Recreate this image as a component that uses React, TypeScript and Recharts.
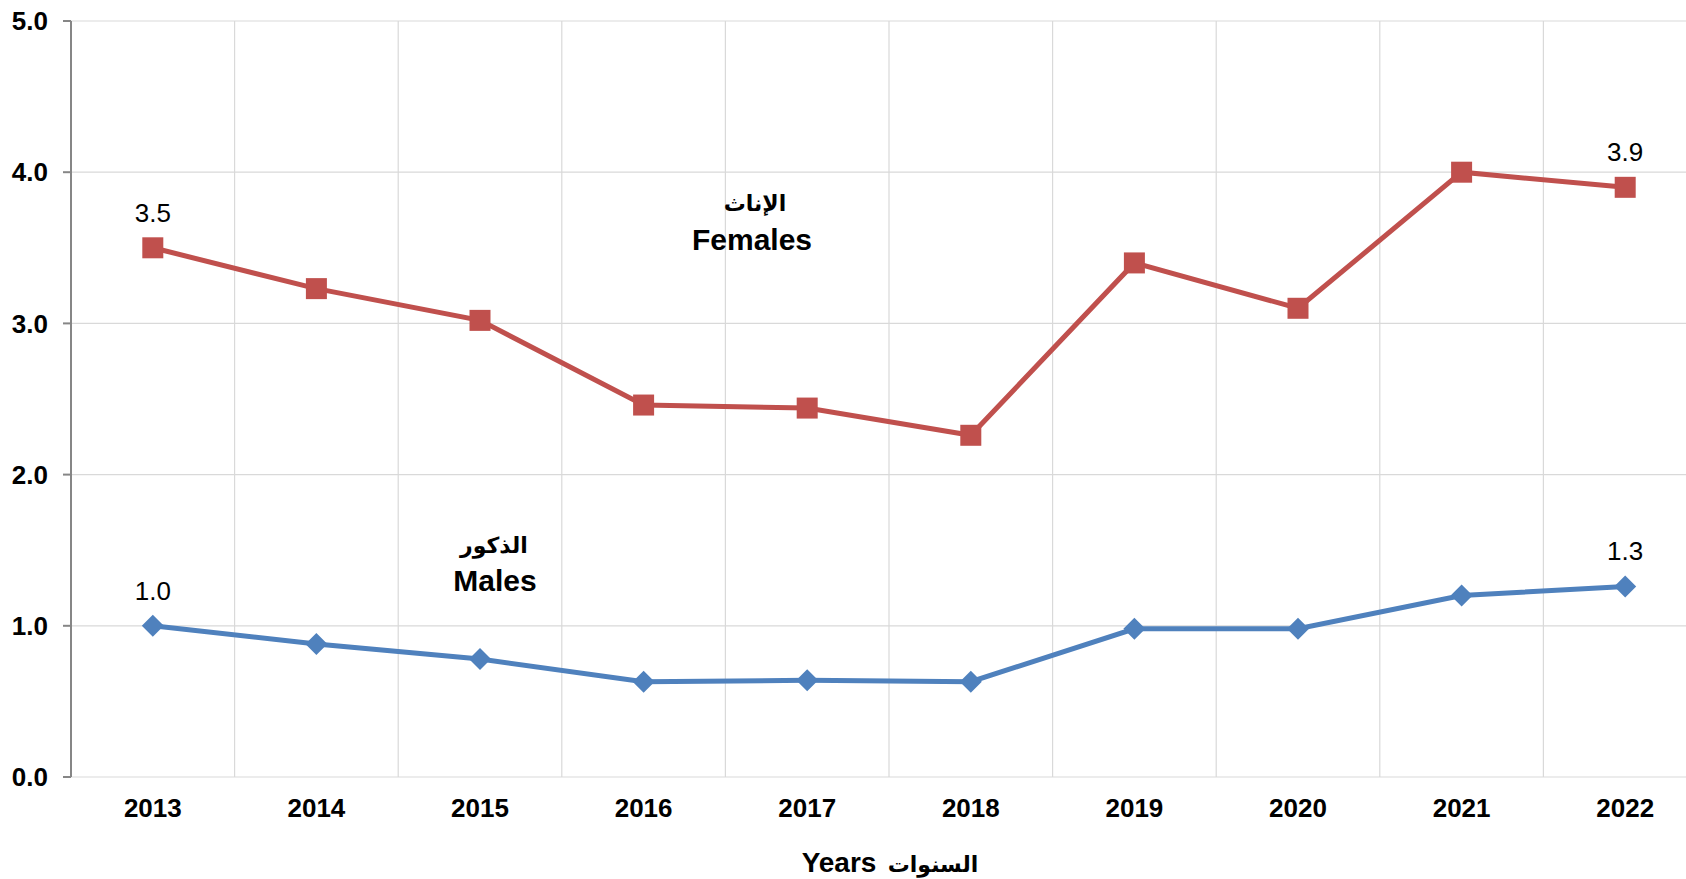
import { LineChart, Line, XAxis, YAxis, CartesianGrid, Customized, LabelList } from 'recharts';

// values
const years = ['2013', '2014', '2015', '2016', '2017', '2018', '2019', '2020', '2021', '2022'];
const females = [3.5, 3.23, 3.02, 2.46, 2.44, 2.26, 3.4, 3.1, 4.0, 3.9];
const males = [1.0, 0.88, 0.78, 0.63, 0.64, 0.63, 0.98, 0.98, 1.2, 1.26];
const yTicks = [0, 1, 2, 3, 4, 5];
const bandEdges = [-0.5, 0.5, 1.5, 2.5, 3.5, 4.5, 5.5, 6.5, 7.5, 8.5, 9.5];
const yearIdx = years.map((_, i) => i);

const data = years.map((year, i) => ({ idx: i, year, females: females[i], males: males[i] }));

const FONT = '"Liberation Sans", Arial, "DejaVu Sans", sans-serif';
const RED = '#C0504D';
const BLUE = '#4F81BD';
const AXIS = '#868686';

const SquareDot = (props: any) => {
  const { cx, cy } = props;
  if (cx == null || cy == null) return null;
  return <rect x={cx - 10.5} y={cy - 10.5} width={21} height={21} fill={RED} />;
};

const DiamondDot = (props: any) => {
  const { cx, cy } = props;
  if (cx == null || cy == null) return null;
  const r = 11;
  return <path d={`M${cx},${cy - r}L${cx + r},${cy}L${cx},${cy + r}L${cx - r},${cy}Z`} fill={BLUE} />;
};

// only first and last point carry a value label
const EndLabel = (props: any) => {
  const { x, y, value, index } = props;
  if (index !== 0 && index !== years.length - 1) return null;
  return (
    <text x={x} y={y - 26} textAnchor="middle" fontFamily={FONT} fontSize={26} fill="#000">
      {Number(value).toFixed(1)}
    </text>
  );
};

const Annotations = () => (
  <g fontFamily={FONT} fontWeight="bold" fill="#000" textAnchor="middle">
    <text x={755} y={211} fontSize={22}>الإناث</text>
    <text x={752} y={250} fontSize={30}>Females</text>
    <text x={494} y={553} fontSize={22}>الذكور</text>
    <text x={495} y={591} fontSize={30}>Males</text>
    <text x={839} y={872} fontSize={28}>Years</text>
    <text x={933} y={872} fontSize={22}>السنوات</text>
  </g>
);

export default function App() {
  return (
    <div style={{ position: 'absolute', left: 0, top: 0, width: 1686, height: 879, overflow: 'hidden', background: '#fff' }}>
      <LineChart width={1712} height={879} data={data} margin={{ top: 21, right: 5, left: 0, bottom: 42 }}>
        <CartesianGrid stroke="#D9D9D9" strokeWidth={1.2} />
        <XAxis
          type="number"
          dataKey="idx"
          domain={[-0.5, 9.5]}
          ticks={bandEdges}
          tickFormatter={() => ''}
          height={0}
          tickSize={8}
          stroke={AXIS}
          strokeWidth={2}
          interval={0}
        />
        <XAxis
          xAxisId="lab"
          type="number"
          dataKey="idx"
          domain={[-0.5, 9.5]}
          ticks={yearIdx}
          tickFormatter={(i: number) => years[i]}
          axisLine={false}
          tickLine={false}
          tickSize={0}
          tickMargin={22}
          height={60}
          interval={0}
          tick={{ fill: '#000', fontSize: 26, fontWeight: 'bold', fontFamily: FONT }}
        />
        <YAxis
          domain={[0, 5]}
          ticks={yTicks}
          tickFormatter={(v: number) => v.toFixed(1)}
          width={71}
          tickSize={8}
          tickMargin={15}
          stroke={AXIS}
          strokeWidth={2}
          tick={{ fill: '#000', fontSize: 26, fontWeight: 'bold', fontFamily: FONT }}
        />
        <Line
          dataKey="females"
          stroke={RED}
          strokeWidth={5}
          dot={<SquareDot />}
          activeDot={false}
          isAnimationActive={false}
        >
          <LabelList dataKey="females" content={<EndLabel />} />
        </Line>
        <Line
          dataKey="males"
          stroke={BLUE}
          strokeWidth={5}
          dot={<DiamondDot />}
          activeDot={false}
          isAnimationActive={false}
        >
          <LabelList dataKey="males" content={<EndLabel />} />
        </Line>
        <Customized component={Annotations} />
      </LineChart>
    </div>
  );
}
